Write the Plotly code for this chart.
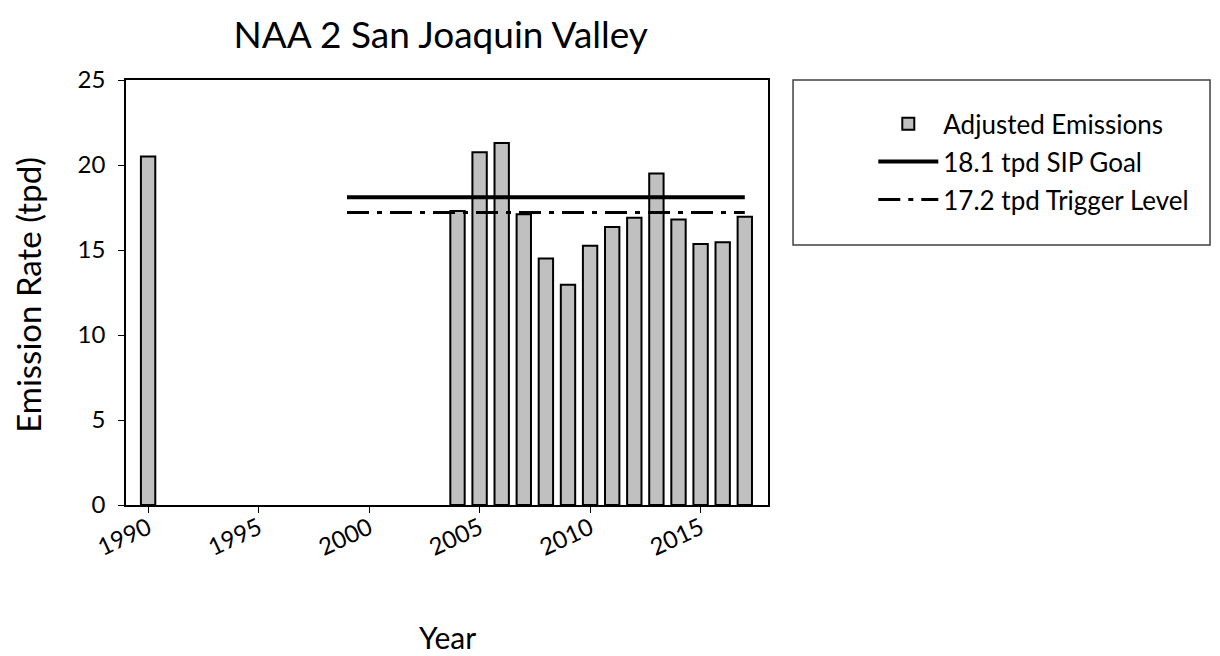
import plotly.graph_objects as go

years = [1990, 2004, 2005, 2006, 2007, 2008, 2009, 2010, 2011, 2012, 2013, 2014, 2015, 2016, 2017]
emissions = [20.5, 17.3, 20.75, 21.3, 17.1, 14.5, 12.95, 15.25, 16.35, 16.9, 19.5, 16.8, 15.35, 15.45, 16.95]
goal_years = [1999, 2017]
sip_goal = [18.1, 18.1]
trigger_level = [17.2, 17.2]
x_ticks = [1990, 1995, 2000, 2005, 2010, 2015]
y_ticks = [0, 5, 10, 15, 20, 25]

FONT = "Lato"
W, H = 1212, 648
L, R, T, B = 118, 452, 72, 151

fig = go.Figure()
fig.add_trace(go.Bar(
    x=years, y=emissions, width=0.65, name="Adjusted Emissions", legendgroup="a",
    marker=dict(color="#c0c0c0", line=dict(color="black", width=2)),
))
fig.add_trace(go.Scatter(
    x=goal_years, y=sip_goal, mode="lines", name="18.1 tpd SIP Goal", legendgroup="b",
    line=dict(color="black", width=4),
))
fig.add_trace(go.Scatter(
    x=goal_years, y=trigger_level, mode="lines", name="17.2 tpd Trigger Level", legendgroup="c",
    line=dict(color="black", width=3, dash="22px,8px,5px,8px"),
))

fig.update_layout(
    width=W, height=H,
    plot_bgcolor="white", paper_bgcolor="white",
    margin=dict(l=L, r=R, t=T, b=B),
    font=dict(family=FONT, color="black", size=22),
    title=dict(text="NAA 2 San Joaquin Valley", x=0.357, xanchor="center", y=0.958, yanchor="middle",
               font=dict(family=FONT, size=37, color="black")),
    showlegend=True,
    legend=dict(x=1.164, xanchor="left", y=0.952, yanchor="top",
                borderwidth=0, bgcolor="rgba(0,0,0,0)",
                font=dict(family=FONT, size=26, color="black"),
                itemwidth=60, tracegroupgap=1),
    shapes=[dict(type="rect", xref="paper", yref="paper", x0=1.039, x1=1.6885, y0=0.612, y1=1.0,
                 line=dict(color="#404040", width=1.5), layer="below")],
)
fig.update_xaxes(
    range=[1989, 2018.05], tickvals=x_ticks, tickangle=-25,
    showline=True, linecolor="black", linewidth=2, mirror=True,
    ticks="outside", ticklen=6, tickcolor="black", showgrid=False, zeroline=False,
    tickfont=dict(size=24), ticklabelstandoff=-8,
)
fig.update_yaxes(
    range=[0, 25], tickvals=y_ticks,
    showline=True, linecolor="black", linewidth=1.5, mirror=True,
    ticks="outside", ticklen=6, tickcolor="black", showgrid=False, zeroline=False,
    tickfont=dict(size=24), ticklabelstandoff=8,
)
fig.add_annotation(text="Emission Rate (tpd)", xref="paper", yref="paper", x=-0.153, y=0.494,
                   textangle=-90, showarrow=False, font=dict(size=33, family=FONT),
                   xanchor="center", yanchor="middle")
fig.add_annotation(text="Year", xref="paper", yref="paper", x=0.5, y=-0.3106,
                   showarrow=False, font=dict(size=30, family=FONT),
                   xanchor="center", yanchor="middle")

fig.write_html("out.html")
